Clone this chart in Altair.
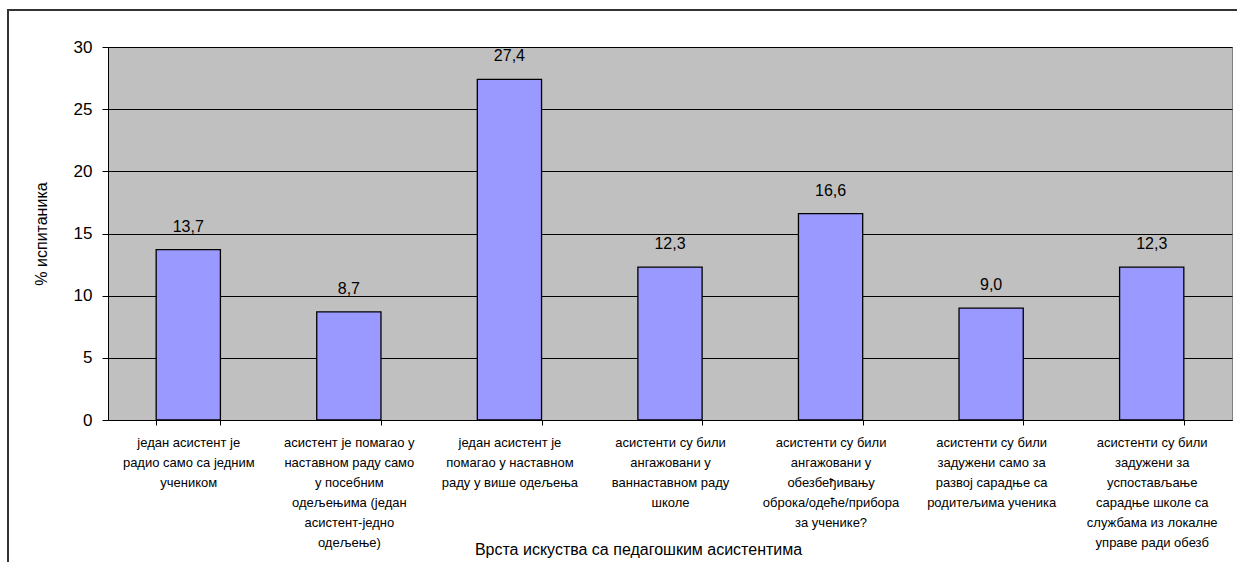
import altair as alt
import pandas as pd

categories = [
    "један асистент је|радио само са једним|учеником",
    "асистент је помагао у|наставном раду само|у посебним|одељењима (један|асистент-једно|одељење)",
    "један асистент је|помагао у наставном|раду у више одељења",
    "асистенти су били|ангажовани у|ваннаставном раду|школе",
    "асистенти су били|ангажовани у|обезбеђивању|оброка/одеће/прибора|за ученике?",
    "асистенти су били|задужени само за|развој сарадње са|родитељима ученика",
    "асистенти су били|задужени за|успостављање|сарадње школе са|службама из локалне|управе ради обезб",
]
values = [13.7, 8.7, 27.4, 12.3, 16.6, 9.0, 12.3]
y_ticks = [0, 5, 10, 15, 20, 25, 30]

df = pd.DataFrame({"cat": categories, "val": values})
df["lab"] = [f"{v:.1f}".replace(".", ",") for v in values]

FONT = "Liberation Sans"

x_enc = alt.X(
    "cat:N",
    sort=None,
    scale=alt.Scale(paddingInner=0.6, paddingOuter=0.3),
    axis=alt.Axis(
        title="Врста искуства са педагошким асистентима",
        titleFontSize=16,
        titleFont=FONT,
        titleFontWeight="normal",
        titleColor="black",
        titlePadding=-8,
        titleX=530,
        labelExpr="split(datum.label, '|')",
        labelFontSize=13,
        labelFont=FONT,
        labelColor="black",
        labelLineHeight=20,
        labelAngle=0,
        labelPadding=11,
        labelLimit=400,
        tickBand="extent",
        tickColor="black",
        tickSize=5,
        domainColor="black",
        grid=False,
    ),
)
y_enc = alt.Y(
    "val:Q",
    scale=alt.Scale(domain=[0, 30], nice=False),
    axis=alt.Axis(
        title="% испитаника",
        titleFontSize=16,
        titleFont=FONT,
        titleFontWeight="normal",
        titleColor="black",
        titlePadding=24,
        values=y_ticks,
        labelFontSize=17,
        labelFont=FONT,
        labelColor="black",
        labelPadding=10,
        tickColor="black",
        tickSize=6,
        domainColor="black",
        gridColor="black",
        gridOpacity=1,
        gridWidth=1,
    ),
)

bars = alt.Chart(df).mark_bar(
    color="#9999FF", stroke="black", strokeWidth=1.3
).encode(x=x_enc, y=y_enc)

texts = alt.Chart(df).mark_text(
    dy=-15, baseline="bottom", fontSize=16, font=FONT, color="black"
).encode(x=alt.X("cat:N", sort=None), y="val:Q", text="lab:N")

frame = alt.Chart(df.head(1)).mark_rect(
    fill=None, stroke="#333333", strokeWidth=2, clip=False
).encode(
    x=alt.value(-100), x2=alt.value(1200),
    y=alt.value(-37), y2=alt.value(600),
)

chart = alt.layer(frame, bars, texts).properties(
    width=1124,
    height=373,
    autosize=alt.AutoSizeParams(type="none"),
    padding={"left": 108, "top": 47, "right": 5, "bottom": 142},
    background="white",
).configure_view(
    fill="#C0C0C0", stroke="#808080", strokeWidth=1
)

chart.save("out.html", embed_options={"renderer": "svg", "actions": False})
